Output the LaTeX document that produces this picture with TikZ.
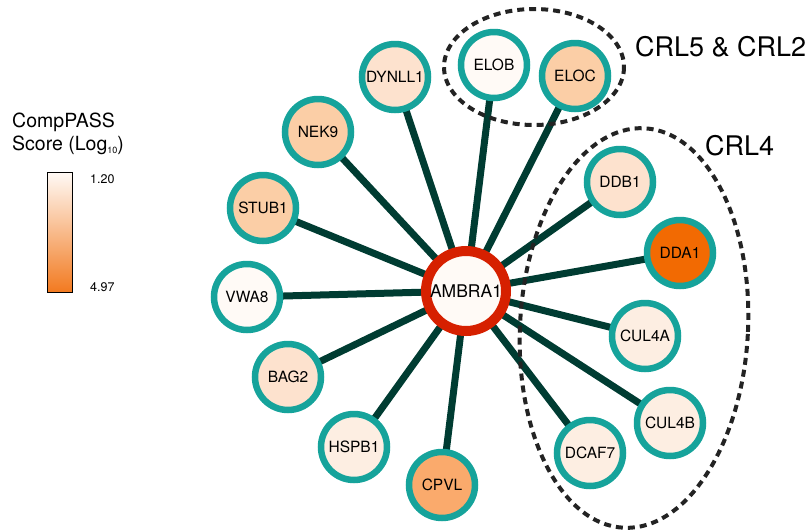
\documentclass[tikz,border=0pt]{standalone}
\usepackage{fontspec}
\setmainfont{TeX Gyre Heros}
\usetikzlibrary{backgrounds}
\definecolor{teal1}{RGB}{22,163,155}
\definecolor{edgec}{RGB}{0,60,50}
\definecolor{ringred}{RGB}{214,32,0}
\definecolor{fA}{RGB}{255,250,246}
\definecolor{fB}{RGB}{253,238,226}
\definecolor{fC}{RGB}{253,226,206}
\definecolor{fD}{RGB}{251,206,166}
\definecolor{fE}{RGB}{250,170,108}
\definecolor{fF}{RGB}{242,106,2}
\definecolor{barbot}{RGB}{242,122,32}
\definecolor{dashc}{RGB}{35,35,35}
\tikzset{
  prot/.style={circle, draw=teal1, line width=6.5pt, minimum size=66pt, inner sep=0pt, font=\fontsize{15.5}{17}\selectfont},
  hub/.style={circle, draw=ringred, line width=10pt, fill=fA, minimum size=80pt, inner sep=0pt, font=\fontsize{17.5}{19}\selectfont},
  link/.style={draw=edgec, line width=7pt},
  grp/.style={draw=dashc, line width=4pt, dash pattern=on 7pt off 5pt},
  grplabel/.style={font=\fontsize{27}{29}\selectfont, anchor=base west, inner sep=0pt},
  legtext/.style={font=\fontsize{19.5}{22}\selectfont, anchor=base west, inner sep=0pt, align=left},
  ticklab/.style={font=\fontsize{12.5}{14}\selectfont, anchor=base west, inner sep=0pt}
}
\begin{document}
\begin{tikzpicture}[x=1pt,y=-1pt]
\useasboundingbox (0,0) rectangle (807,531);
% group ellipses
\draw[grp] (534,67) ellipse [x radius=90, y radius=58];
\draw[grp] (634,328) [rotate around={-3:(634,328)}] ellipse [x radius=114, y radius=200];
\node[grplabel] (lcrl5) at (635,56) {CRL5 \& CRL2};
\node[grplabel] (lcrl4) at (705,155) {CRL4};
% nodes
\node[hub] (ambra) at (466,291) {AMBRA1};
\node[prot, fill=fC] (dynll1) at (395,77) {DYNLL1};
\node[prot, fill=fA] (elob) at (494,65) {ELOB};
\node[prot, fill=fD] (eloc) at (575,76) {ELOC};
\node[prot, fill=fD] (nek9) at (318,132) {NEK9};
\node[prot, fill=fD] (stub1) at (263,208) {STUB1};
\node[prot, fill=fA] (vwa8) at (247,297) {VWA8};
\node[prot, fill=fC] (bag2) at (288,377) {BAG2};
\node[prot, fill=fB] (hspb1) at (354,447) {HSPB1};
\node[prot, fill=fE] (cpvl) at (442,485) {CPVL};
\node[prot, fill=fB] (dcaf7) at (590,453) {DCAF7};
\node[prot, fill=fB] (cul4b) at (670,423) {CUL4B};
\node[prot, fill=fB] (cul4a) at (645,336) {CUL4A};
\node[prot, fill=fF] (dda1) at (680,253) {DDA1};
\node[prot, fill=fC] (ddb1) at (620,182) {DDB1};
% edges
\begin{scope}[on background layer]
\foreach \t in {dynll1,elob,eloc,nek9,stub1,vwa8,bag2,hspb1,cpvl,dcaf7,cul4b,cul4a,dda1,ddb1}
  \draw[link] (ambra.center) -- (\t.center);
\end{scope}
% legend
\node[legtext] (legt1) at (12,127) {CompPASS};
\node[legtext] (legt2) at (12,150) {Score (Log\raisebox{-0.35ex}{\fontsize{9}{10}\selectfont 10})};
\shade[top color=fA, bottom color=barbot] (47,172) rectangle (72,292);
\draw[black, line width=1pt] (47,172) rectangle (72,292);
\node[ticklab] (t1) at (90,183) {1.20};
\node[ticklab] (t2) at (90,291) {4.97};
\end{tikzpicture}
\end{document}
